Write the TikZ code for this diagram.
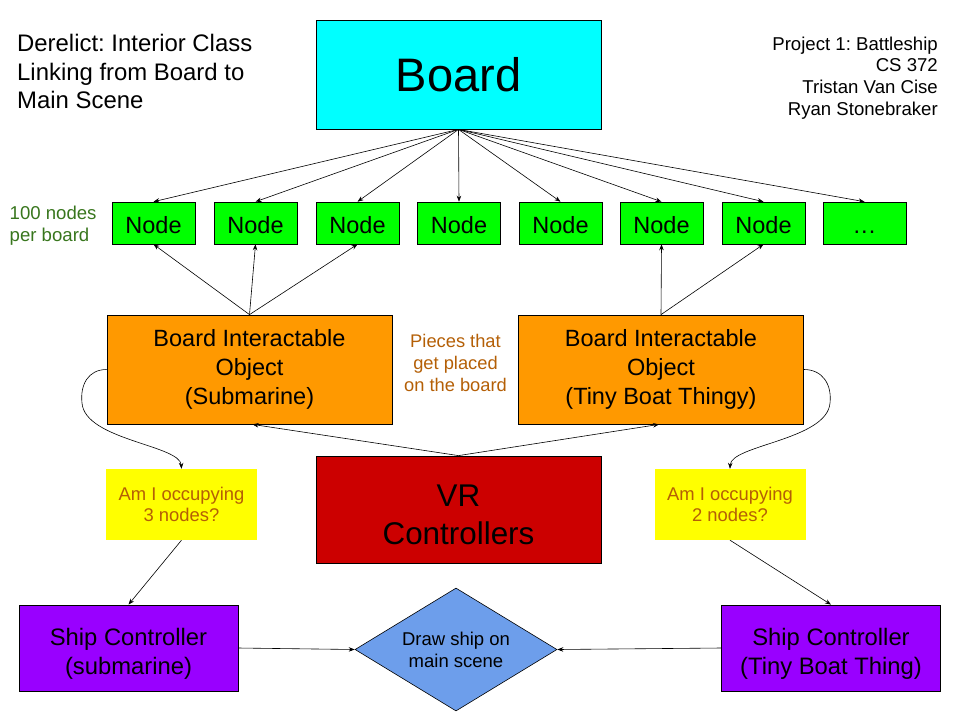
\documentclass[tikz,border=0pt]{standalone}
\usepackage{fontspec}
\setmainfont{Liberation Sans}
\frenchspacing
\usetikzlibrary{shapes.geometric,arrows.meta}
\definecolor{cyanbox}{HTML}{00FFFF}
\definecolor{greenbox}{HTML}{00FF00}
\definecolor{orangebox}{HTML}{FF9900}
\definecolor{redbox}{HTML}{CC0000}
\definecolor{yellowbox}{HTML}{FFFF00}
\definecolor{purplebox}{HTML}{9900FF}
\definecolor{bluebox}{HTML}{6D9EEB}
\definecolor{browntext}{HTML}{B45F06}
\definecolor{greentext}{HTML}{38761D}
\tikzset{
  box/.style={draw=black, line width=0.8pt, inner sep=0pt, align=center, rectangle},
  plain/.style={inner sep=0pt, align=center},
  nodebox/.style={box, fill=greenbox, minimum width=83pt, minimum height=42pt, line width=0.6pt, text height=21pt, text depth=0pt, font=\fontsize{23.5}{28}\selectfont},
  orangebx/.style={box, fill=orangebox, minimum width=285pt, minimum height=109pt, font=\fontsize{23.5}{29}\selectfont},
  yellowbx/.style={inner sep=0pt, align=center, fill=yellowbox, minimum width=151pt, minimum height=71pt, text=browntext, font=\fontsize{18.4}{21}\selectfont},
  purplebx/.style={box, fill=purplebox, minimum width=219pt, minimum height=86pt},
  purpletext/.style={plain, font=\fontsize{23.8}{29}\selectfont},
  conn/.style={line width=0.6pt, -{Stealth[length=6pt,width=4.5pt]}},
}
\begin{document}
\begin{tikzpicture}[x=1pt,y=-1pt]
\useasboundingbox (0,0) rectangle (960,720);
% Board
\node[box, fill=cyanbox, minimum width=285pt, minimum height=109pt, font=\fontsize{47}{56}\selectfont] (board) at (458.5,74.5) {Board};
% Nodes row
\node[nodebox] (n1) at (153.5,223) {Node};
\node[nodebox] (n2) at (255.5,223) {Node};
\node[nodebox] (n3) at (357.5,223) {Node};
\node[nodebox] (n4) at (459,223) {Node};
\node[nodebox] (n5) at (560.5,223) {Node};
\node[nodebox] (n6) at (661.5,223) {Node};
\node[nodebox] (n7) at (763.5,223) {Node};
\node[nodebox] (n8) at (864.5,223) {.\kern1pt.\kern1pt.};
% Orange
\node[orangebx] (ol) at (249.5,369.5) {Board Interactable\\Object\\(Submarine)};
\node[orangebx] (or) at (661,369.5) {Board Interactable\\Object\\(Tiny Boat Thingy)};
% VR
\node[box, fill=redbox, minimum width=285pt, minimum height=107pt] (vr) at (458.5,509.5) {};
\node[plain, font=\fontsize{31.4}{38}\selectfont] (vrtext) at ([yshift=-5pt]vr.center) {VR\\Controllers};
% Yellow
\node[yellowbx] (yl) at (181.5,504.5) {Am I occupying\\3 nodes?};
\node[yellowbx] (yr) at (730,504.5) {Am I occupying\\2 nodes?};
% Purple
\node[purplebx] (pl) at (128.5,648) {};
\node[purpletext] (pltext) at ([yshift=-6pt]pl.center) {Ship Controller\\(submarine)};
\node[purplebx] (pr) at (831,648) {};
\node[purpletext] (prtext) at ([yshift=-6pt]pr.center) {Ship Controller\\(Tiny Boat Thing)};
% Diamond
\node[draw=black, line width=0.6pt, fill=bluebox, diamond, shape aspect=1.64, inner sep=0pt, minimum width=202pt, minimum height=123pt, align=center, font=\fontsize{18.5}{22}\selectfont] (dm) at (456,649.5) {Draw ship on\\main scene};
% Texts
\node[anchor=west, align=left, inner sep=0pt, font=\fontsize{23.9}{28.5}\selectfont] (title) at (17,71.5) {Derelict: Interior Class\\Linking from Board to\\Main Scene};
\node[anchor=east, align=right, inner sep=0pt, font=\fontsize{18.6}{21.7}\selectfont] (credits) at (938,78) {Project 1: Battleship\\CS 372\\Tristan Van Cise\\Ryan Stonebraker};
\node[anchor=west, align=left, inner sep=0pt, text=greentext, font=\fontsize{18.6}{22}\selectfont] (hundred) at (9.5,226) {100 nodes\\per board};
\node[align=center, inner sep=0pt, text=browntext, font=\fontsize{18.3}{22}\selectfont] (pieces) at (455.5,363) {Pieces that\\get placed\\on the board};
% Connectors board -> nodes
\foreach \n in {n1,n2,n3,n4,n5,n6,n7,n8}{
  \draw[conn] (board.south) -- (\n.north);
}
% orange -> nodes
\draw[conn] (ol.north) -- (n1.south);
\draw[conn] (ol.north) -- (n2.south);
\draw[conn] (ol.north) -- (n3.south);
\draw[conn] (or.north) -- (n6.south);
\draw[conn] (or.north) -- (n7.south);
% VR -> orange
\draw[conn] (vr.north) -- ([xshift=3pt]ol.south);
\draw[conn] (vr.north) -- ([xshift=-2pt]or.south);
% curves
\draw[conn] (ol.west) .. controls (88,369.5) and (80,385) .. (82,403) .. controls (85,440) and (180,445) .. (yl.north);
\draw[conn] (or.east) .. controls (823,369.5) and (832,385) .. (830,403) .. controls (827,440) and (731,445) .. (yr.north);
% yellow -> purple
\draw[conn] (yl.south) -- (pl.north);
\draw[conn] (yr.south) -- (pr.north);
% purple -> diamond
\draw[conn] (pl.east) -- (dm.west);
\draw[conn] (pr.west) -- (dm.east);
\end{tikzpicture}
\end{document}
